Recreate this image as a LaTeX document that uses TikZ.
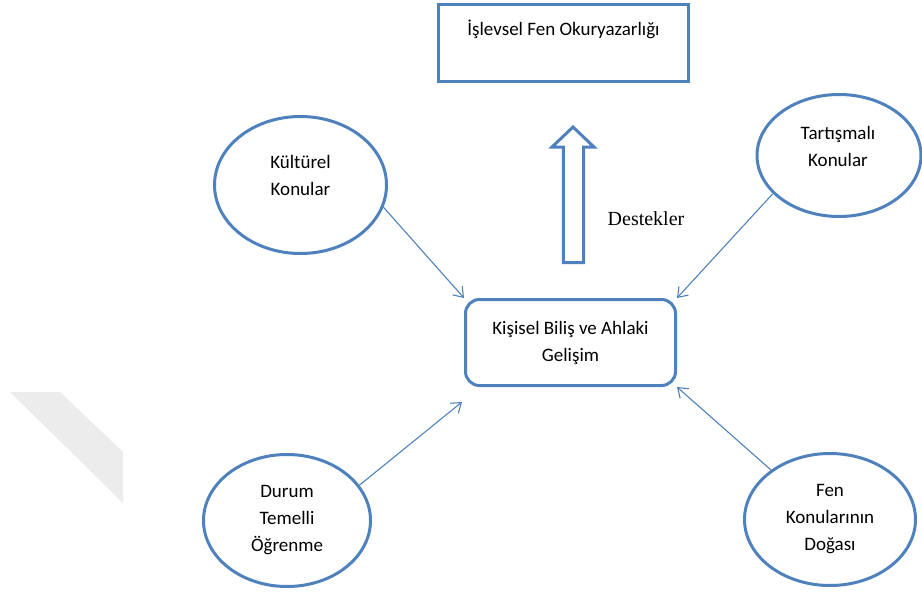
\documentclass[tikz,border=0pt]{standalone}
\usepackage{fontspec}
\setmainfont{Carlito}
\newfontfamily\timesfont{Liberation Serif}
\usepackage{tikz}
\usetikzlibrary{arrows.meta,shapes.geometric}
\definecolor{wordblue}{RGB}{79,129,189}
\definecolor{wmgray}{RGB}{236,236,236}
\tikzstyle{bubble} = [ellipse, draw=wordblue, line width=3pt, inner sep=0pt]
\tikzstyle{txt} = [align=center, font=\fontsize{19}{27}\selectfont]
\tikzstyle{link} = [line width=1.1pt, color=wordblue, -{Straight Barb[length=9pt,width=13pt]}]

\begin{document}
\begin{tikzpicture}[x=1pt, y=-1pt]
    \useasboundingbox (0,0) rectangle (922,594);
    % watermark stripe
    \fill[wmgray] (10,392) -- (60,392) -- (123,452) -- (123,503) -- cycle;

    % goal box
    \node[draw=wordblue, line width=3pt, minimum width=250pt, inner ysep=0pt,
          text height=31.5pt, text depth=45.5pt, font=\fontsize{19}{27}\selectfont] (okur) at (563.5,43) {İşlevsel Fen Okuryazarlığı};

    % central box
    \node[draw=wordblue, line width=3pt, rounded corners=14pt, minimum width=210pt,
          minimum height=86pt, txt] (bilis) at (570.5,342.5) {Kişisel Biliş ve Ahlaki\\Gelişim};

    % upper ellipses
    \node[bubble, minimum width=172pt, minimum height=137pt] (kultur) at (300.5,185) {};
    \node[txt] (kultur-yazi) at (300.5,175) {Kültürel\\Konular};
    \node[bubble, minimum width=164pt, minimum height=122pt] (tartisma) at (839,155.5) {};
    \node[txt] (tartisma-yazi) at (838,146.5) {Tartışmalı\\Konular};

    % lower ellipses
    \node[bubble, minimum width=167pt, minimum height=132pt, txt] (durum) at (287,520.5) {Durum\\Temelli\\Öğrenme};
    \node[bubble, minimum width=171pt, minimum height=132pt, txt] (fen) at (830,519.5) {Fen\\Konularının\\Doğası};

    % hollow arrow
    \draw[wordblue, line width=3pt] (563.3,262.5) -- (563.3,147) -- (552,147) -- (573,127)
        -- (594,147) -- (583.5,147) -- (583.5,262.5) -- cycle;
    \node[font=\timesfont\fontsize{20}{24}\selectfont] (destek) at (646,219) {Destekler};

    % connectors
    \coordinate (bilis-alt) at ([xshift=-2pt,yshift=-15pt]bilis.south west);
    \draw[link] (kultur.-15) -- (bilis.north west);
    \draw[link] (tartisma.210) -- (bilis.north east);
    \draw[link] (durum.26) -- (bilis-alt);
    \draw[link] (fen.140) -- (bilis.south east);
\end{tikzpicture}
\end{document}
